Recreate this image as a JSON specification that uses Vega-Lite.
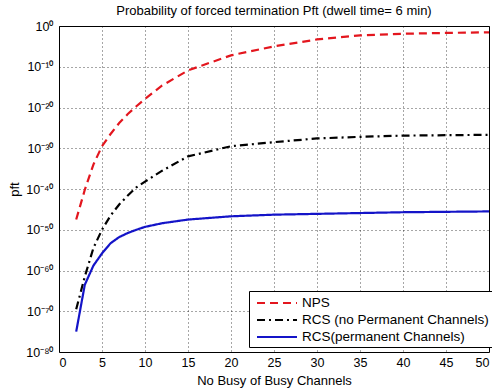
{
  "$schema": "https://vega.github.io/schema/vega-lite/v6.json",
  "width": 430,
  "height": 326,
  "autosize": {"type": "none"},
  "padding": {"left": 59, "top": 26, "right": 3, "bottom": 37},
  "background": "white",
  "title": {"text": "Probability of forced termination Pft (dwell time= 6 min)", "font": "Liberation Sans", "fontSize": 13, "fontWeight": "normal", "color": "black", "offset": 2, "anchor": "middle"},
  "config": {
    "view": {"stroke": "black", "strokeWidth": 1},
    "axis": {"labelFont": "Liberation Sans", "titleFont": "Liberation Sans", "labelColor": "black", "titleColor": "black", "titleFontWeight": "normal", "labelFontSize": 12.5, "titleFontSize": 13, "grid": true, "gridColor": "black", "gridDash": [1, 3], "gridOpacity": 0.7, "domain": false, "ticks": false},
    "legend": {"labelFont": "Liberation Sans", "labelFontSize": 13.5, "labelColor": "black"}
  },
  "data": {"values": [
    {"x": 2, "series": "NPS", "pft": 3.162e-48},
    {"x": 3, "series": "NPS", "pft": 6.310e-41},
    {"x": 4, "series": "NPS", "pft": 1e-34},
    {"x": 5, "series": "NPS", "pft": 3.162e-30},
    {"x": 6, "series": "NPS", "pft": 3.162e-27},
    {"x": 7, "series": "NPS", "pft": 1.585e-24},
    {"x": 8, "series": "NPS", "pft": 2.512e-22},
    {"x": 9, "series": "NPS", "pft": 1.995e-20},
    {"x": 10, "series": "NPS", "pft": 1.259e-18},
    {"x": 12, "series": "NPS", "pft": 2.512e-15},
    {"x": 15, "series": "NPS", "pft": 1.259e-11},
    {"x": 20, "series": "NPS", "pft": 6.310e-8},
    {"x": 25, "series": "NPS", "pft": 1e-5},
    {"x": 30, "series": "NPS", "pft": 5.012e-4},
    {"x": 35, "series": "NPS", "pft": 5.012e-3},
    {"x": 40, "series": "NPS", "pft": 1.259e-2},
    {"x": 45, "series": "NPS", "pft": 1.995e-2},
    {"x": 50, "series": "NPS", "pft": 2.818e-2},
    {"x": 2, "series": "RCS (no Permanent Channels)", "pft": 3.162e-70},
    {"x": 3, "series": "RCS (no Permanent Channels)", "pft": 3.162e-62},
    {"x": 4, "series": "RCS (no Permanent Channels)", "pft": 3.162e-55},
    {"x": 5, "series": "RCS (no Permanent Channels)", "pft": 1e-50},
    {"x": 6, "series": "RCS (no Permanent Channels)", "pft": 3.162e-47},
    {"x": 7, "series": "RCS (no Permanent Channels)", "pft": 1.585e-44},
    {"x": 8, "series": "RCS (no Permanent Channels)", "pft": 2.512e-42},
    {"x": 9, "series": "RCS (no Permanent Channels)", "pft": 2.512e-40},
    {"x": 10, "series": "RCS (no Permanent Channels)", "pft": 6.310e-39},
    {"x": 12, "series": "RCS (no Permanent Channels)", "pft": 3.162e-36},
    {"x": 15, "series": "RCS (no Permanent Channels)", "pft": 1e-32},
    {"x": 20, "series": "RCS (no Permanent Channels)", "pft": 3.162e-30},
    {"x": 25, "series": "RCS (no Permanent Channels)", "pft": 3.162e-29},
    {"x": 30, "series": "RCS (no Permanent Channels)", "pft": 2.512e-28},
    {"x": 35, "series": "RCS (no Permanent Channels)", "pft": 6.310e-28},
    {"x": 40, "series": "RCS (no Permanent Channels)", "pft": 1.259e-27},
    {"x": 45, "series": "RCS (no Permanent Channels)", "pft": 1.585e-27},
    {"x": 50, "series": "RCS (no Permanent Channels)", "pft": 1.995e-27},
    {"x": 2, "series": "RCS(permanent Channels)", "pft": 1e-75},
    {"x": 3, "series": "RCS(permanent Channels)", "pft": 3.162e-64},
    {"x": 4, "series": "RCS(permanent Channels)", "pft": 1.585e-59},
    {"x": 5, "series": "RCS(permanent Channels)", "pft": 1.585e-56},
    {"x": 6, "series": "RCS(permanent Channels)", "pft": 5.012e-54},
    {"x": 7, "series": "RCS(permanent Channels)", "pft": 1.585e-52},
    {"x": 8, "series": "RCS(permanent Channels)", "pft": 1.585e-51},
    {"x": 9, "series": "RCS(permanent Channels)", "pft": 1e-50},
    {"x": 10, "series": "RCS(permanent Channels)", "pft": 5.012e-50},
    {"x": 12, "series": "RCS(permanent Channels)", "pft": 3.981e-49},
    {"x": 15, "series": "RCS(permanent Channels)", "pft": 3.162e-48},
    {"x": 20, "series": "RCS(permanent Channels)", "pft": 1.995e-47},
    {"x": 25, "series": "RCS(permanent Channels)", "pft": 5.012e-47},
    {"x": 30, "series": "RCS(permanent Channels)", "pft": 7.943e-47},
    {"x": 35, "series": "RCS(permanent Channels)", "pft": 1.259e-46},
    {"x": 40, "series": "RCS(permanent Channels)", "pft": 1.995e-46},
    {"x": 45, "series": "RCS(permanent Channels)", "pft": 2.512e-46},
    {"x": 50, "series": "RCS(permanent Channels)", "pft": 3.162e-46}
  ]},
  "mark": {"type": "line", "strokeWidth": 2.2},
  "encoding": {
    "x": {"field": "x", "type": "quantitative", "scale": {"domain": [0, 50], "nice": false, "zero": false},
      "axis": {"title": "No Busy of Busy Channels", "values": [0, 5, 10, 15, 20, 25, 30, 35, 40, 45, 50], "labelPadding": 4, "titlePadding": 6}},
    "y": {"field": "pft", "type": "quantitative", "scale": {"type": "log", "domain": [1e-80, 1], "nice": false},
      "axis": {"title": "pft", "values": [1e-80, 1e-70, 1e-60, 1e-50, 1e-40, 1e-30, 1e-20, 1e-10, 1], "labelPadding": 6, "titleX": -45, "titleY": 163, "titleAngle": -90, "titleBaseline": "middle",
        "labelExpr": "'10' + (round(log(datum.value)/LN10) == 0 ? '⁰' : '⁻' + ['⁰','¹','²','³','⁴','⁵','⁶','⁷','⁸'][round(-log(datum.value)/LN10/10)] + '⁰')"}},
    "color": {"field": "series", "type": "nominal",
      "scale": {"domain": ["NPS", "RCS (no Permanent Channels)", "RCS(permanent Channels)"], "range": ["#e3161e", "#000000", "#1414c8"]},
      "legend": {"title": null, "orient": "none", "legendX": 190, "legendY": 265, "symbolType": "M-0.5,0H4.5", "symbolSize": 256, "symbolStrokeWidth": 2, "strokeColor": "black", "fillColor": "white", "padding": 3, "rowPadding": 1, "labelOffset": 32, "labelLimit": 400}},
    "strokeDash": {"field": "series", "type": "nominal",
      "scale": {"domain": ["NPS", "RCS (no Permanent Channels)", "RCS(permanent Channels)"], "range": [[8, 5], [8, 4, 2, 4], [1, 0]]}}
  }
}
